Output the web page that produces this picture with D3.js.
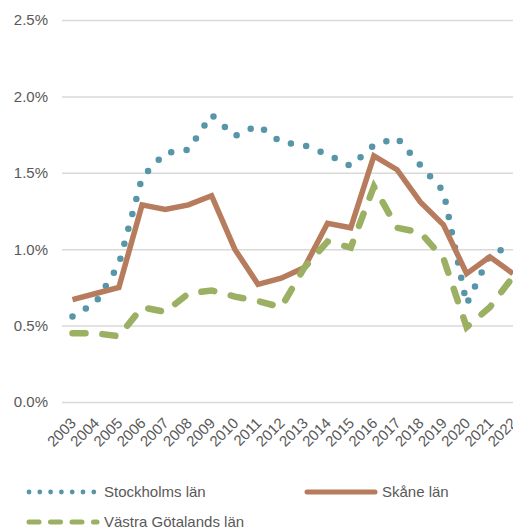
<!DOCTYPE html>
<html>
<head>
<meta charset="utf-8">
<script src="https://cdn.jsdelivr.net/npm/d3@7"></script>
<style>
  body { margin: 0; background: #fff; }
  svg { display: block; font-family: "Liberation Sans", Arial, sans-serif; }
  .axis text { fill: #595959; font-size: 15px; }
</style>
</head>
<body>
<script>
// Data, in percent as fractions
const years = ["2003", "2004", "2005", "2006", "2007", "2008", "2009", "2010", "2011", "2012",
  "2013", "2014", "2015", "2016", "2017", "2018", "2019", "2020", "2021", "2022"];
const stockholm = [0.56, 0.65, 0.90, 1.47, 1.63, 1.65, 1.88, 1.74, 1.81, 1.70,
  1.68, 1.62, 1.545, 1.68, 1.73, 1.55, 1.38, 0.64, 0.96, 1.03];
const skane = [0.67, 0.71, 0.75, 1.29, 1.26, 1.29, 1.35, 1.00, 0.77, 0.81,
  0.88, 1.17, 1.14, 1.61, 1.52, 1.31, 1.16, 0.84, 0.95, 0.84];
const vastra = [0.45, 0.45, 0.43, 0.62, 0.59, 0.71, 0.73, 0.69, 0.66, 0.62,
  0.88, 1.05, 1.01, 1.41, 1.14, 1.11, 0.94, 0.49, 0.62, 0.82];
const yTicks = [0, 0.005, 0.01, 0.015, 0.02, 0.025];

const series = [
  { name: "Stockholms län", values: stockholm, color: "#5696a8" },
  { name: "Skåne län", values: skane, color: "#b77c5e" },
  { name: "Västra Götalands län", values: vastra, color: "#9bb062" }
];

const svgWidth = 513;
const svgHeight = 529;

const svg = d3.select("body")
  .append("svg")
  .attr("width", svgWidth)
  .attr("height", svgHeight);

const x = d3.scalePoint()
  .domain(years)
  .range([72.5, 513]);

const y = d3.scaleLinear()
  .domain([0, 0.025])
  .range([402, 20]);

// Y axis with gridlines
const yAxis = svg.append("g")
  .attr("class", "axis")
  .attr("transform", "translate(62,0)")
  .call(d3.axisLeft(y).tickValues(yTicks).tickFormat(d3.format(".1%"))
    .tickSize(-(513 - 62)).tickPadding(14));
yAxis.select(".domain").remove();
yAxis.selectAll(".tick line").attr("stroke", "#d9d9d9").attr("stroke-width", 1.5);

// X axis labels, rotated
const xAxis = svg.append("g")
  .attr("class", "axis")
  .attr("transform", "translate(0,402)")
  .call(d3.axisBottom(x).tickSize(0));
xAxis.select(".domain").remove();
xAxis.selectAll(".tick text")
  .attr("text-anchor", "end")
  .attr("dy", 0)
  .attr("y", 0)
  .attr("transform", "translate(4,22) rotate(-45)");

const line = d3.line()
  .x((d, i) => x(years[i]))
  .y(d => y(d / 100));

// Stockholm: dotted
svg.append("path")
  .attr("d", line(stockholm))
  .attr("fill", "none")
  .attr("stroke", series[0].color)
  .attr("stroke-width", 6.5)
  .attr("stroke-linecap", "round")
  .attr("stroke-dasharray", "0 15.5");

// Skåne: solid
svg.append("path")
  .attr("d", line(skane))
  .attr("fill", "none")
  .attr("stroke", series[1].color)
  .attr("stroke-width", 5.5)
  .attr("stroke-linejoin", "miter");

// Västra Götaland: dashed
svg.append("path")
  .attr("d", line(vastra))
  .attr("fill", "none")
  .attr("stroke", series[2].color)
  .attr("stroke-width", 6.5)
  .attr("stroke-linecap", "round")
  .attr("stroke-dasharray", "13 17");

// Legend
const legendItems = [
  { s: series[0], x: 27, y: 492, dash: "0 10.8", w: 4.8, cap: "round" },
  { s: series[1], x: 305, y: 492, dash: null, w: 5, cap: "round" },
  { s: series[2], x: 27, y: 522, dash: "10 11.5", w: 5, cap: "round" }
];
legendItems.forEach(item => {
  const g = svg.append("g").attr("transform", `translate(${item.x},${item.y})`);
  g.append("line")
    .attr("x1", 2).attr("x2", 70)
    .attr("stroke", item.s.color)
    .attr("stroke-width", item.w)
    .attr("stroke-linecap", item.cap)
    .attr("stroke-dasharray", item.dash);
  g.append("text")
    .attr("x", 77)
    .attr("dy", "0.35em")
    .attr("fill", "#595959")
    .style("font-size", "15px")
    .text(item.s.name);
});
</script>
</body>
</html>
